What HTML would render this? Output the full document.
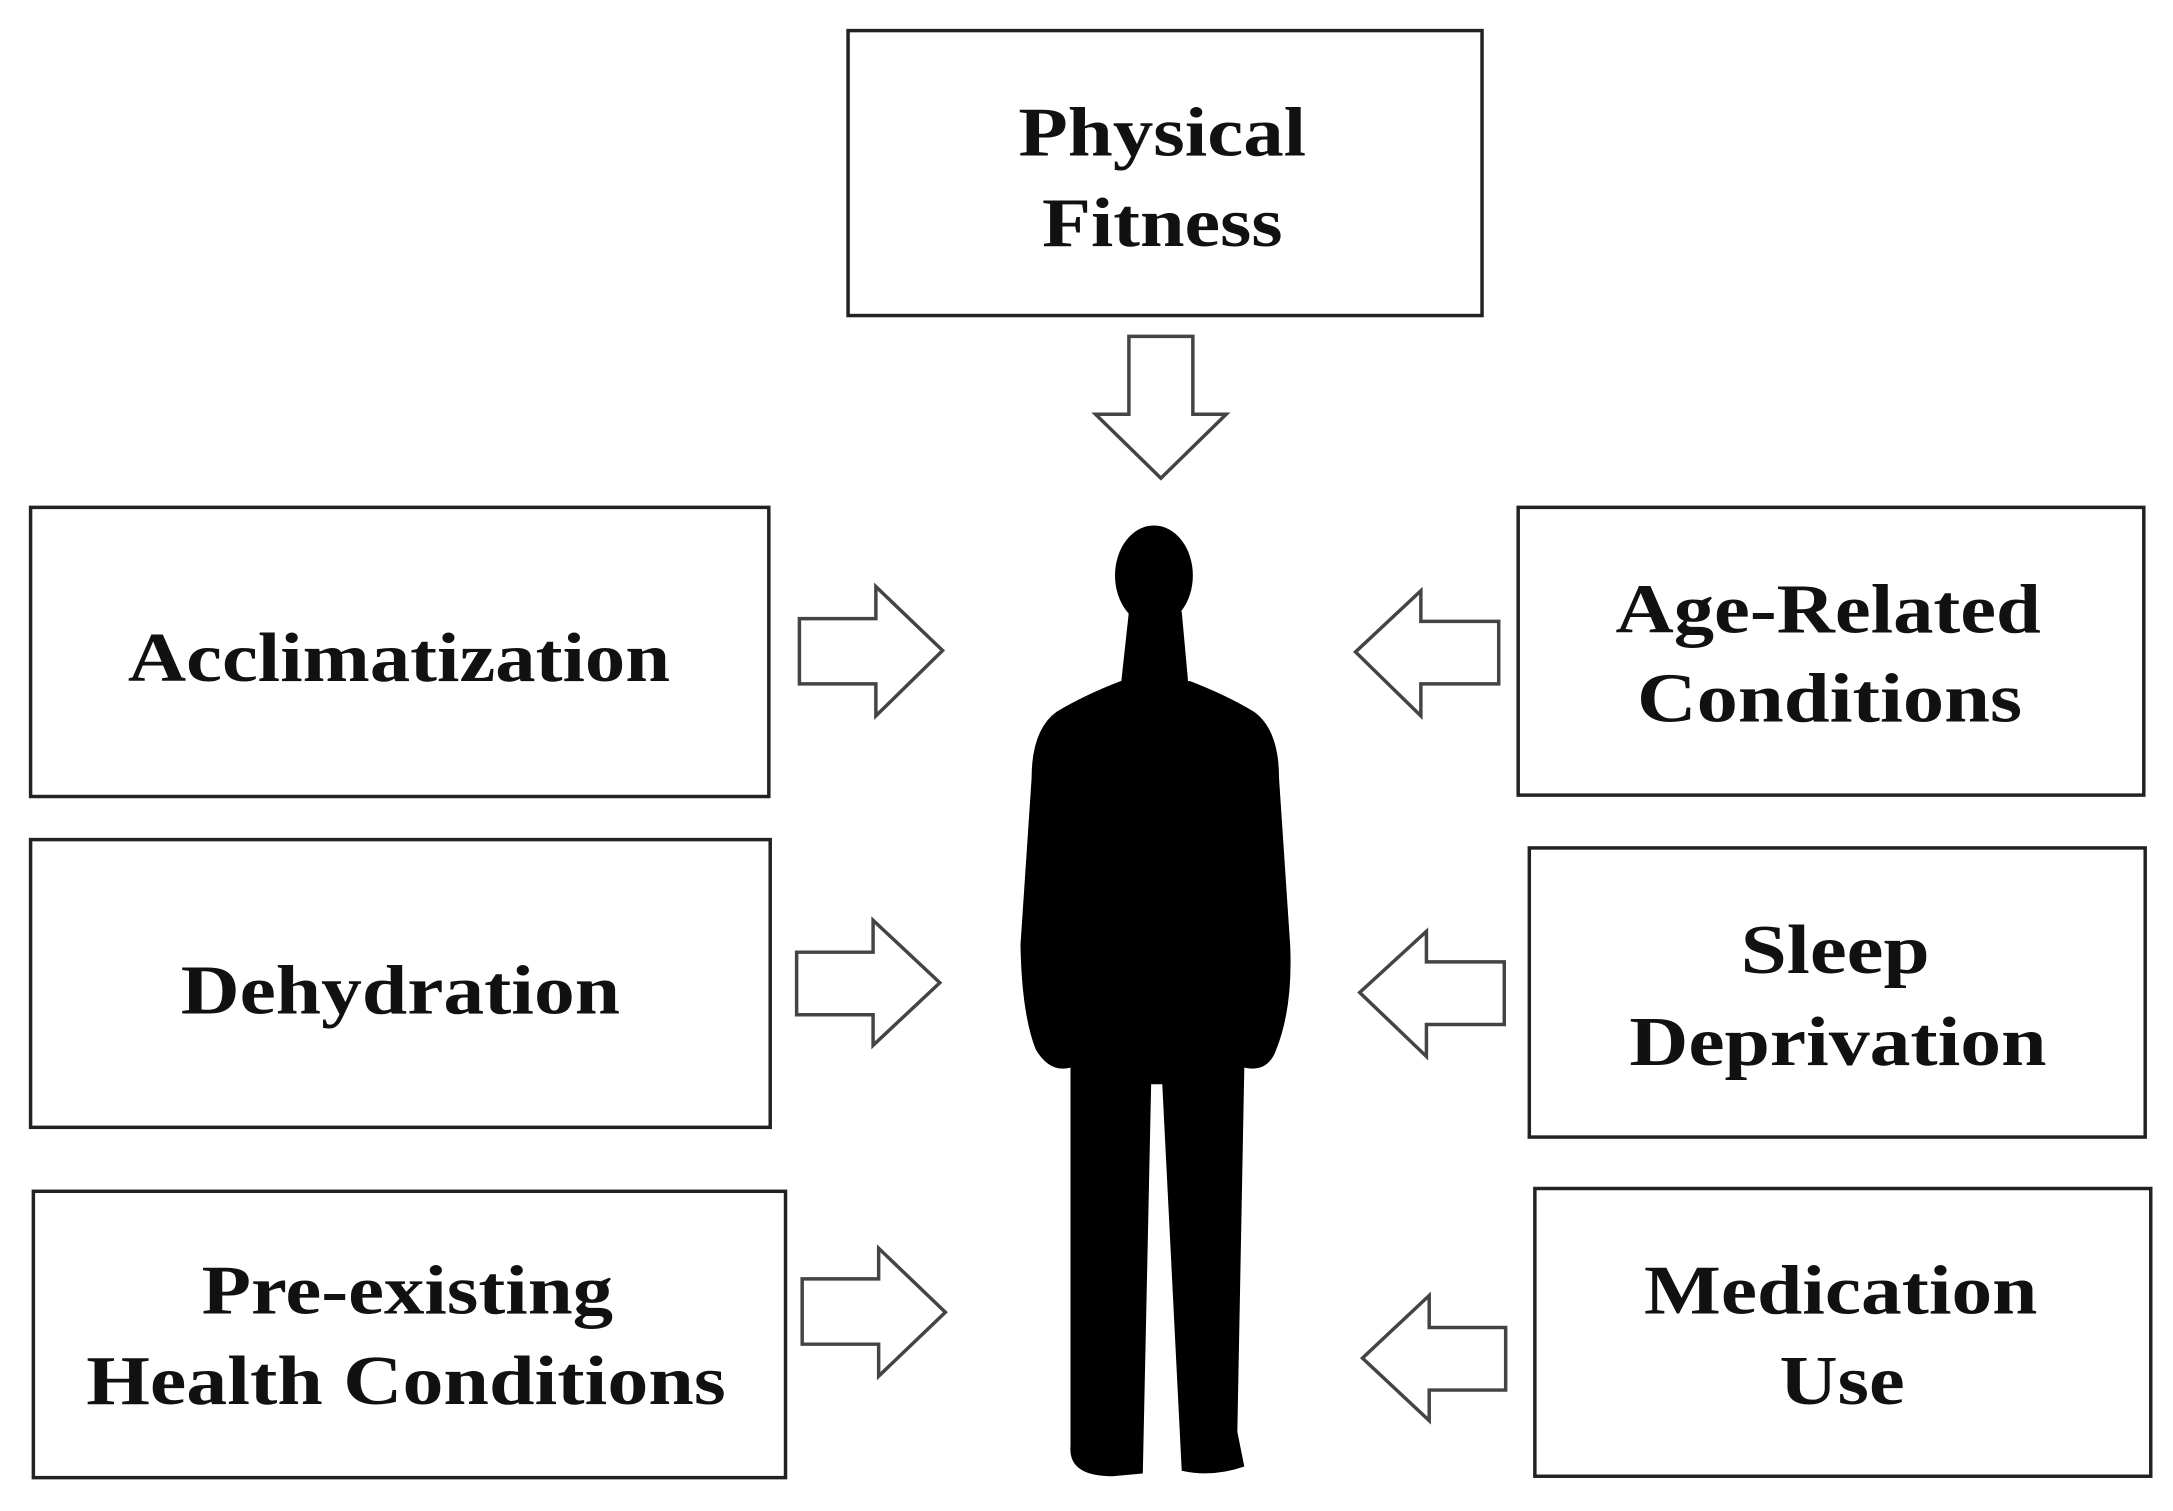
<!DOCTYPE html>
<html><head><meta charset="utf-8"><style>
html,body{margin:0;padding:0;background:#fff;}
svg{display:block;}
text{font-family:"Liberation Serif",serif;font-weight:bold;font-size:50px;fill:#111;}
</style></head><body>
<svg width="2173" height="1511" viewBox="0 0 1563 1087" preserveAspectRatio="none" xmlns="http://www.w3.org/2000/svg">
<g fill="#fff" stroke="#222" stroke-width="2.5">
<rect x="610" y="22" width="456" height="205"/>
<rect x="22" y="365" width="531" height="208"/>
<rect x="22" y="604" width="532" height="207"/>
<rect x="24" y="857" width="541" height="206"/>
<rect x="1092" y="365" width="450" height="207"/>
<rect x="1100" y="610" width="443" height="208"/>
<rect x="1104" y="855" width="443" height="207"/>
</g>
<g fill="#fff" stroke="#444" stroke-width="2.5" stroke-linejoin="miter">
<polygon points="812,242 858,242 858,298 882,298 835,344 788,298 812,298"/>
<polygon points="575,445 630,445 630,422 678,468 630,515 630,492 575,492"/>
<polygon points="573,685 628,685 628,662 676,707 628,752 628,730 573,730"/>
<polygon points="577,920 632,920 632,898 680,944 632,990 632,967 577,967"/>
<polygon points="1078,447 1022,447 1022,425 975,469 1022,515 1022,492 1078,492"/>
<polygon points="1082,692 1026,692 1026,670 978,714 1026,760 1026,737 1082,737"/>
<polygon points="1083,955 1028,955 1028,932 980,977 1028,1022 1028,1000 1083,1000"/>
</g>
<g fill="#000">
<ellipse cx="830" cy="414" rx="28" ry="36"/>
<path d="M 812 440 L 850 440 L 855 495 L 806 495 Z"/>
<path d="M 806 490 Q 780 500 760 512 Q 742 525 742 560 L 734 680 Q 735 730 745 755 Q 755 772 770 768 L 770 1040 Q 768 1062 800 1062 L 822 1060 L 828 780 L 836 780 L 850 1058 Q 872 1063 895 1055 L 890 1030 L 895 768 Q 912 772 918 755 Q 930 725 928 680 L 920 560 Q 920 525 902 512 Q 882 500 856 490 Z"/>
</g>
<g text-anchor="middle">
<text x="836" y="112" textLength="207" lengthAdjust="spacingAndGlyphs">Physical</text>
<text x="836" y="177" textLength="173" lengthAdjust="spacingAndGlyphs">Fitness</text>
<text x="287" y="490" textLength="390" lengthAdjust="spacingAndGlyphs">Acclimatization</text>
<text x="288" y="729" textLength="316" lengthAdjust="spacingAndGlyphs">Dehydration</text>
<text x="293" y="945" textLength="296" lengthAdjust="spacingAndGlyphs">Pre-existing</text>
<text x="292" y="1010" textLength="460" lengthAdjust="spacingAndGlyphs">Health Conditions</text>
<text x="1315" y="455" textLength="306" lengthAdjust="spacingAndGlyphs">Age-Related</text>
<text x="1316" y="519" textLength="277" lengthAdjust="spacingAndGlyphs">Conditions</text>
<text x="1320" y="700" textLength="136" lengthAdjust="spacingAndGlyphs">Sleep</text>
<text x="1322" y="766" textLength="300" lengthAdjust="spacingAndGlyphs">Deprivation</text>
<text x="1324" y="945" textLength="283" lengthAdjust="spacingAndGlyphs">Medication</text>
<text x="1325" y="1010" textLength="90" lengthAdjust="spacingAndGlyphs">Use</text>
</g>
</svg>
</body></html>
